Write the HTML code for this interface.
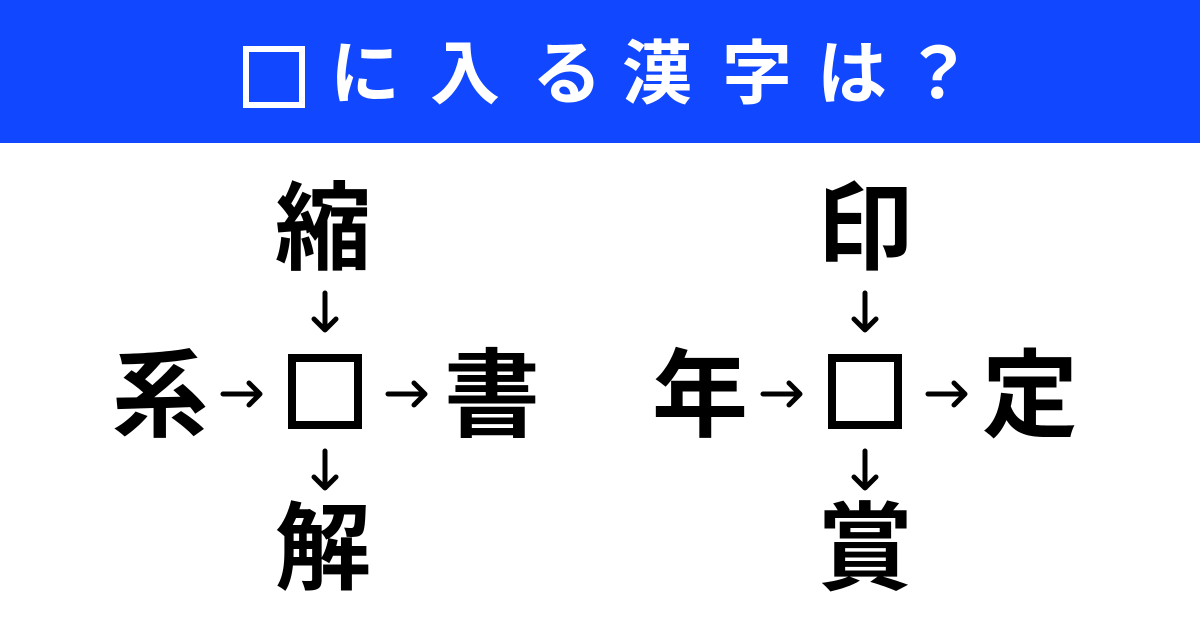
<!DOCTYPE html>
<html><head><meta charset="utf-8"><style>
html,body{margin:0;padding:0;}
body{width:1200px;height:628px;background:#fff;position:relative;overflow:hidden;font-family:"Liberation Sans","Noto Sans CJK JP",sans-serif;}
.hdr{position:absolute;left:0;top:0;width:1200px;height:143px;background:#1047ff;}
.t{position:absolute;top:34px;width:80px;height:80px;line-height:80px;text-align:center;color:#fff;font-size:70px;font-weight:700;}
.box{position:absolute;left:243px;top:46px;width:50px;height:50px;border:6px solid #fff;}
.k{position:absolute;width:110px;height:110px;line-height:110px;text-align:center;font-size:96px;font-weight:700;color:#000;}
</style></head><body>
<div class="hdr"></div>
<div class="box"></div>
<div class="t" style="left:325px">に</div>
<div class="t" style="left:425px">入</div>
<div class="t" style="left:527px">る</div>
<div class="t" style="left:617px">漢</div>
<div class="t" style="left:717px">字</div>
<div class="t" style="left:812px">は</div>
<div class="t" style="left:898px">？</div>
<div class="k" style="left:268px;top:175px">縮</div>
<div class="k" style="left:105px;top:342px">系</div>
<div class="k" style="left:437px;top:342px">書</div>
<div class="k" style="left:268px;top:495px">解</div>
<div class="k" style="left:810px;top:175px">印</div>
<div class="k" style="left:645px;top:342px">年</div>
<div class="k" style="left:975px;top:342px">定</div>
<div class="k" style="left:810px;top:495px">賞</div>
<svg width="1200" height="628" style="position:absolute;left:0;top:0" fill="none" stroke="#000" stroke-width="5" stroke-linecap="round" stroke-linejoin="round">
<rect x="292" y="358" width="66" height="67" stroke-width="8" stroke-linecap="butt" stroke-linejoin="miter"/>
<rect x="832" y="358" width="66" height="67" stroke-width="8" stroke-linecap="butt" stroke-linejoin="miter"/>
<g>
<path d="M325 293V330M314 319L325 330L336 319"/>
<path d="M325 451V488M314 477L325 488L336 477"/>
<path d="M223 394H260M249 383L260 394L249 405"/>
<path d="M388 394H425M414 383L425 394L414 405"/>
</g>
<g transform="translate(540,0)">
<path d="M325 293V330M314 319L325 330L336 319"/>
<path d="M325 451V488M314 477L325 488L336 477"/>
<path d="M223 394H260M249 383L260 394L249 405"/>
<path d="M388 394H425M414 383L425 394L414 405"/>
</g>
</svg>
</body></html>
